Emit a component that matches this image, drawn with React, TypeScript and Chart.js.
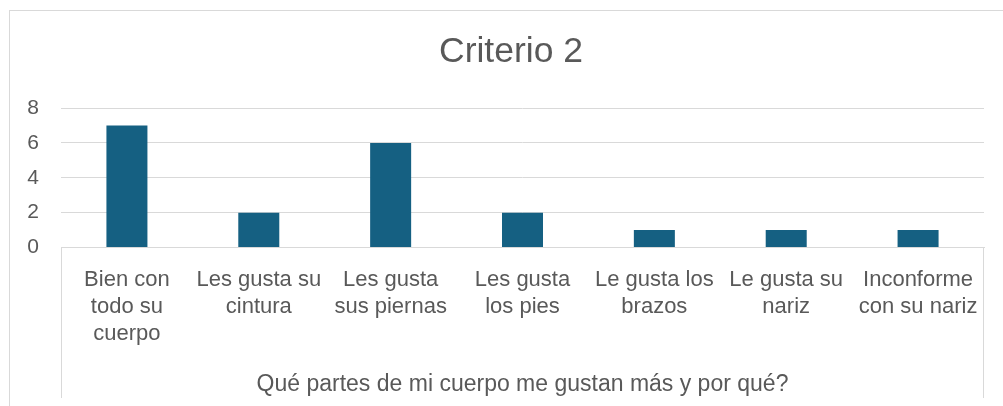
import React, { useEffect, useRef } from "react";
import { Chart, registerables } from "chart.js";

Chart.register(...registerables);

const categories: string[][] = [
  ["Bien con", "todo su", "cuerpo"],
  ["Les gusta su", "cintura"],
  ["Les gusta", "sus piernas"],
  ["Les gusta", "los pies"],
  ["Le gusta los", "brazos"],
  ["Le gusta su", "nariz"],
  ["Inconforme", "con su nariz"],
];
const values: number[] = [7, 2, 6, 2, 1, 1, 1];
const chartTitle = "Criterio 2";
const xAxisTitle = "Qué partes de mi cuerpo me gustan más y por qué?";
const yMin = 0;
const yMax = 8;
const yStep = 2;

const FONT = "'Liberation Sans', Arial, sans-serif";
const TEXT = "#595959";
const GRID = "#d9d9d9";
const BAR = "#156082";

const W = 1002;
const H = 405;

const boxLines = {
  id: "boxLines",
  afterDraw(chart: any) {
    const { ctx, chartArea } = chart;
    const yEnd = chart.height - 18;
    ctx.save();
    ctx.strokeStyle = GRID;
    ctx.lineWidth = 1;
    ctx.beginPath();
    const l = Math.round(chartArea.left) + 0.5;
    const r = Math.round(chartArea.right) - 0.5;
    ctx.moveTo(l, chartArea.bottom);
    ctx.lineTo(l, yEnd);
    ctx.moveTo(r, chartArea.bottom);
    ctx.lineTo(r, yEnd);
    ctx.stroke();
    ctx.restore();
  },
};

export default function App() {
  const ref = useRef<HTMLCanvasElement>(null);
  useEffect(() => {
    if (!ref.current) return;
    const chart = new Chart(ref.current, {
      type: "bar",
      data: {
        labels: categories,
        datasets: [
          {
            data: values,
            backgroundColor: BAR,
            borderWidth: 0,
            barPercentage: 0.311,
            categoryPercentage: 1,
          },
        ],
      },
      options: {
        animation: false,
        responsive: false,
        layout: { padding: { left: 0, right: 0, top: 0, bottom: 0 } },
        plugins: {
          legend: { display: false },
          tooltip: { enabled: false },
          title: {
            display: true,
            text: chartTitle,
            color: TEXT,
            font: { family: FONT, size: 35.5, weight: "normal" },
            padding: { top: 20, bottom: 34.4 },
          },
        },
        scales: {
          x: {
            grid: { display: true, drawOnChartArea: false, drawTicks: false },
            border: { display: true, color: GRID, width: 1 },
            ticks: {
              color: TEXT,
              font: { family: FONT, size: 22, lineHeight: 1.22 },
              padding: 19,
              maxRotation: 0,
              autoSkip: false,
            },
            title: {
              display: true,
              text: xAxisTitle,
              color: TEXT,
              font: { family: FONT, size: 23 },
              padding: { top: 0, bottom: 18 },
            },
            afterFit: (s: any) => {
              s.height = 168.5;
            },
          },
          y: {
            min: yMin,
            max: yMax,
            ticks: {
              stepSize: yStep,
              color: TEXT,
              font: { family: FONT, size: 21 },
              padding: 22,
            },
            grid: { color: GRID, lineWidth: 1, drawTicks: false },
            border: { display: false },
            afterFit: (s: any) => {
              s.width = 51;
            },
          },
          yRight: {
            position: "right",
            display: true,
            ticks: { display: false },
            grid: { display: false, drawTicks: false },
            border: { display: false },
            afterFit: (s: any) => {
              s.width = 28;
            },
          },
        },
      },
      plugins: [boxLines],
    });
    return () => chart.destroy();
  }, []);

  return (
    <div
      style={{
        position: "fixed",
        left: 0,
        top: 0,
        width: 1003,
        height: 406,
        overflow: "hidden",
        background: "#fff",
      }}
    >
      <div
        style={{
          position: "absolute",
          left: 9,
          top: 10,
          width: W,
          height: H,
          border: `1px solid ${GRID}`,
        }}
      >
        <canvas ref={ref} width={W} height={H} style={{ display: "block", width: W, height: H }} />
      </div>
    </div>
  );
}
